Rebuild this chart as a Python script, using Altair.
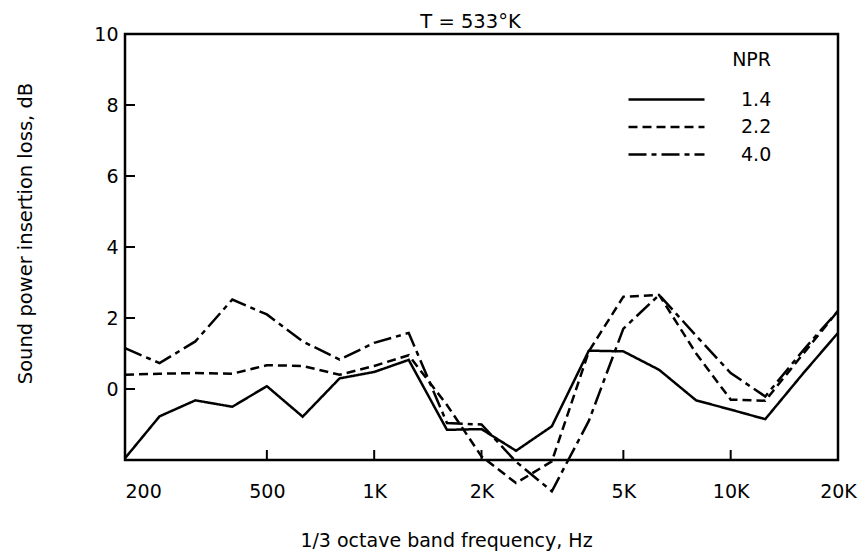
import altair as alt
import pandas as pd

# 1/3 octave band centre frequencies (Hz)
freq = [200, 250, 315, 400, 500, 630, 800, 1000, 1250, 1600, 2000,
        2500, 3150, 4000, 5000, 6300, 8000, 10000, 12500, 16000, 20000]

# Sound power insertion loss (dB)
npr_1_4 = [-1.95, -0.77, -0.32, -0.50, 0.08, -0.78, 0.30, 0.48, 0.82, -1.15, -1.13,
           -1.74, -1.05, 1.08, 1.06, 0.54, -0.32, -0.58, -0.85, 0.45, 1.58]
npr_2_2 = [0.40, 0.43, 0.45, 0.43, 0.67, 0.65, 0.40, 0.65, 0.95, -0.45, -1.90,
           -2.65, -2.04, 1.06, 2.60, 2.65, 1.00, -0.30, -0.33, 1.00, 2.20]
npr_4_0 = [1.15, 0.73, 1.34, 2.52, 2.10, 1.34, 0.83, 1.30, 1.58, -0.96, -1.00,
           -2.05, -2.88, -0.90, 1.70, 2.65, 1.50, 0.45, -0.21, 1.10, 2.20]

series_names = ["1.4", "2.2", "4.0"]
x_tick_values = [200, 500, 1000, 2000, 5000, 10000, 20000]
x_tick_labels = ["200", "500", "1K", "2K", "5K", "10K", "20K"]
y_tick_values = [0, 2, 4, 6, 8, 10]
inner_x_ticks = [500, 1000, 2000, 5000, 10000]
inner_y_ticks = [0, 2, 4, 6, 8]

rows = []
for name, vals in zip(series_names, [npr_1_4, npr_2_2, npr_4_0]):
    for f, v in zip(freq, vals):
        rows.append({"freq": f, "loss": v, "NPR": name})
df = pd.DataFrame(rows)

W, H = 713, 426
FONT = "DejaVu Sans"
FS = 19
TFS = 19

label_expr = "''"
for v, l in reversed(list(zip(x_tick_values, x_tick_labels))):
    label_expr = f"datum.value == {v} ? '{l}' : ({label_expr})"

x_scale = alt.Scale(type="log", domain=[200, 20000], nice=False)
y_scale = alt.Scale(domain=[-2, 10], nice=False, zero=False)

x_axis = alt.Axis(
    values=x_tick_values, labelExpr=label_expr, ticks=False, tickSize=0,
    domain=False, grid=False, labelPadding=22, labelFont=FONT, labelFontSize=FS,
    labelColor="black",
    labelAlign={"condition": {"test": "datum.value == 200", "value": "left"}, "value": "center"},
    title="1/3 octave band frequency, Hz", titleFont=FONT, titleFontSize=TFS,
    titleFontWeight="normal", titleColor="black", titleX=321, titleY=86,
    titleAlign="center", titleBaseline="alphabetic",
)
y_axis = alt.Axis(
    values=y_tick_values, ticks=False, tickSize=0, domain=False, grid=False,
    labelPadding=7, labelFont=FONT, labelFontSize=FS, labelColor="black",
    title="Sound power insertion loss, dB", titleFont=FONT, titleFontSize=19.5,
    titleFontWeight="normal", titleColor="black", titleX=-100, titleY=199,
    titleAlign="center", titleBaseline="middle",
)

lines = alt.Chart(df).mark_line(strokeWidth=2.5, color="black").encode(
    x=alt.X("freq:Q", scale=x_scale, axis=x_axis),
    y=alt.Y("loss:Q", scale=y_scale, axis=y_axis),
    strokeDash=alt.StrokeDash(
        "NPR:N",
        scale=alt.Scale(domain=series_names, range=[[1, 0], [9, 5], [18, 5, 5, 5]]),
        legend=alt.Legend(
            orient="none", legendX=502, legendY=17, padding=0,
            title="NPR", titleFont=FONT, titleFontSize=FS, titleFontWeight="normal",
            titleColor="black", titleAnchor="end", titlePadding=16,
            symbolType="stroke", symbolSize=5776, symbolStrokeWidth=2.5,
            symbolStrokeColor="black", labelFont=FONT, labelFontSize=FS,
            labelColor="black", labelOffset=35, clipHeight=27, rowPadding=0.5,
        ),
    ),
)

xticks = alt.Chart(pd.DataFrame({"freq": inner_x_ticks})).mark_rule(
    color="black", strokeWidth=2
).encode(
    x=alt.X("freq:Q", scale=x_scale, axis=x_axis),
    y=alt.value(H),
    y2=alt.value(H - 10),
)

yticks = alt.Chart(pd.DataFrame({"loss": inner_y_ticks})).mark_rule(
    color="black", strokeWidth=2
).encode(
    y=alt.Y("loss:Q", scale=y_scale, axis=y_axis),
    x=alt.value(0),
    x2=alt.value(10),
)

chart = alt.layer(lines, xticks, yticks).properties(
    width=W, height=H,
    autosize=alt.AutoSizeParams(type="none"),
    padding={"left": 117, "top": 26, "right": 20, "bottom": 95},
    title=alt.TitleParams(
        "T = 533°K", font=FONT, fontSize=19.5, fontWeight="normal", color="black",
        anchor="middle", dx=-11, dy=13, offset=6,
    ),
).configure_view(stroke="black", strokeWidth=2.5)

chart.save("out.html", embed_options={"renderer": "svg", "actions": False})
